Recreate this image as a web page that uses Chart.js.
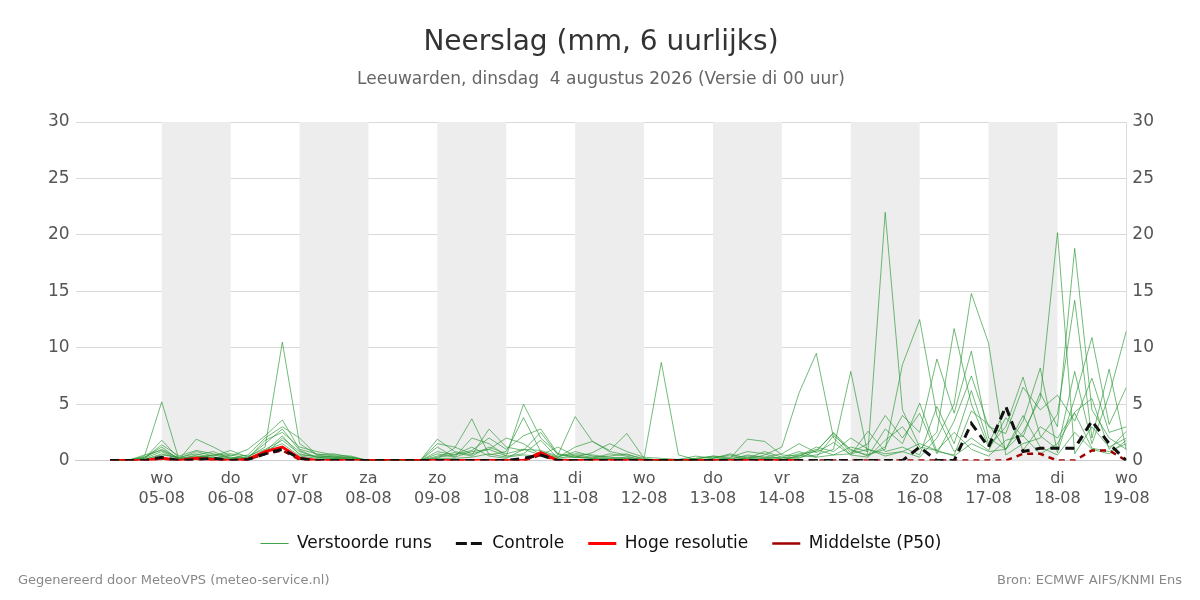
<!DOCTYPE html>
<html>
<head>
<meta charset="utf-8">
<script src="https://cdn.jsdelivr.net/npm/chart.js@4"></script>
<style>
  body { margin: 0; background: #fff; font-family: "DejaVu Sans", sans-serif; }
  #wrap { position: relative; width: 1200px; height: 600px; }
  .foot { position: absolute; top: 572px; font-size: 13px; color: #888; }
</style>
</head>
<body>
<div id="wrap">
  <canvas id="chart" width="1200" height="600"></canvas>
  <div class="foot" style="left:18px">Gegenereerd door MeteoVPS (meteo-service.nl)</div>
  <div class="foot" style="right:18px">Bron: ECMWF AIFS/KNMI Ens</div>
</div>
<script>
// x = 6-hour steps since 04-08 06:00
const dayNames = ["wo","do","vr","za","zo","ma","di","wo","do","vr","za","zo","ma","di","wo"];
const dayDates = ["05-08","06-08","07-08","08-08","09-08","10-08","11-08","12-08","13-08","14-08","15-08","16-08","17-08","18-08","19-08"];
const shadedDays = [0, 2, 4, 6, 8, 10, 12];

const members = [
  [0,0,0.3,1.0,0.2,0.4,0.3,0.2,0.1,0.5, 2.0,0.8,0.3,0.2,0.1,0,0,0,0,0.3, 0.5,1.2,0.4,0.2,1.0,0.5,0.3,0.8,0.4,0.2, 0.3,0.1,0,0,0.1,0,0,0.3,0.2,0.1, 0.4,1.0,0.5,1.2,0.8,22.0,4.5,1.2,0.9,2.5, 1.0,0.4,1.8,2.2,0.6,1.5,4.2,1.1,0.8,1.5],
  [0,0,0.2,0.8,0.1,0.3,0.5,0.2,0.3,1.2, 10.5,1.5,0.5,0.3,0.2,0,0,0,0,0.6, 0.3,0.8,1.0,0.4,5.0,2.0,0.6,0.3,0.2,0.1, 0.2,0,0,0,0,0,0.1,0.2,0,0, 0.5,0.3,2.2,1.0,0.4,2.8,1.5,5.1,0.8,0.5, 4.4,3.2,1.0,2.5,5.5,20.2,0.6,3.0,1.2,2.0],
  [0,0,0.4,5.2,0.1,1.9,1.2,0.4,1.0,2.2, 3.6,1.0,0.6,0.4,0.3,0,0,0.1,0,1.9, 0.8,0.5,2.8,1.2,0.9,2.5,0.5,3.9,1.7,0.8, 0.5,0.2,0,0,0.2,0.3,0.1,0.5,0.3,0.2, 0.6,0.8,2.5,0.9,0.5,1.0,8.5,12.5,4.0,0.8, 2.0,0.9,3.8,2.1,6.0,3.0,18.8,4.5,2.0,1.0],
  [0,0,0.1,0.5,0.3,0.6,0.2,0.5,0.2,0.8, 2.2,0.5,0.4,0.3,0.1,0,0,0,0,0.2, 1.1,3.7,0.5,0.8,3.8,0.8,0.3,1.2,1.7,0.9, 2.4,0.2,8.7,0.5,0.1,0.4,0.2,1.9,1.7,0.5, 0.4,1.2,0.8,2.0,1.0,0.6,0.8,0.3,2.0,5.0, 14.8,10.4,0.5,1.5,2.0,4.1,14.2,2.0,8.1,0.9],
  [0,0,0.2,1.8,0.2,0.8,0.4,0.9,0.3,1.5, 2.8,0.9,0.3,0.4,0.2,0,0,0,0,1.2, 0.3,2.0,1.5,0.4,0.6,1.8,0.2,0.5,0.3,0.4, 0.6,0.1,0.1,0,0,0.2,0.5,0.1,0.5,1.2, 6.0,9.5,2.0,0.5,0.3,1.8,3.0,1.0,2.5,11.7, 5.0,1.2,3.0,7.4,2.2,1.0,7.9,1.5,5.8,11.5],
  [0,0,0.3,1.2,0.1,0.5,0.8,0.2,0.5,2.0, 3.0,2.0,0.5,0.6,0.3,0,0,0,0,0.8, 0.5,0.9,2.0,1.0,2.2,2.8,0.6,0.3,0.7,1.5, 0.8,0.3,0.2,0.1,0.2,0.4,0.3,0.8,0.6,0.1, 0.3,0.5,1.0,7.9,0.5,1.2,4.0,2.5,9.0,4.2, 9.7,2.0,1.0,3.5,8.2,0.7,5.5,10.9,3.2,6.5],
  [0,0,0.2,1.4,0.4,0.9,0.6,0.3,0.2,1.8, 2.5,1.2,0.8,0.5,0.4,0,0,0,0,1.5, 1.2,0.6,1.0,2.0,1.5,0.5,1.2,0.4,0.2,0.6, 0.4,0,0,0.1,0.4,0.2,0.6,0.2,0.8,0.3, 0.2,0.9,2.4,0.7,1.5,4.0,2.0,4.2,0.6,3.5, 7.5,3.0,2.4,6.5,4.5,5.8,3.5,7.3,2.5,3.0],
  [0,0,0.5,0.9,0.2,0.3,0.5,0.6,0.4,1.0, 1.8,0.6,0.3,0.2,0.3,0,0,0,0,0.4, 0.7,0.4,1.2,0.6,1.0,0.9,0.4,0.6,0.5,0.3, 0.2,0.1,0,0,0,0.1,0.2,0.4,0.3,0.6, 1.5,0.7,1.6,0.5,2.6,0.8,1.2,0.5,4.8,1.5, 6.2,1.5,4.6,0.9,3.0,2.0,4.3,5.5,1.0,2.6],
  [0,0,0.1,0.6,0.2,0.2,0.3,0.1,0.2,0.9, 1.5,0.4,0.2,0.2,0.1,0,0,0,0,0.2, 0.2,0.3,0.6,0.3,0.5,0.4,0.2,0.3,0.2,0.2, 0.1,0,0,0,0,0,0.1,0.1,0.2,0.3, 0.8,0.3,0.5,0.6,1.0,0.4,0.8,1.5,0.9,0.4, 1.5,0.8,1.0,4.0,1.2,0.5,2.5,1.0,0.6,1.8]
];
const controle = [0,0,0,0.3,0,0.1,0.2,0,0.1,0.6, 1.0,0.2,0,0,0,0,0,0,0,0, 0,0,0,0,0.2,0.5,0,0,0,0, 0,0,0,0,0,0,0,0,0,0, 0,0,0,0,0,0,0,1.2,0,0, 3.3,1.2,4.8,0.8,1.1,1.1,1.1,3.5,1.5,0];
const hogeRes = [0,0,0,0.2,0,0.2,0.1,0,0.1,0.8, 1.2,0.2,0,0,0,0,0,0,0,0, 0,0,0,0,0,0.7,0,0,0,0, 0,0,0,0,0,0,0,0,0,0, 0];
const p50 = [0,0,0,0.2,0,0.1,0.1,0,0.1,0.6, 0.9,0.1,0,0,0,0,0,0,0,0, 0,0,0,0,0,0.5,0,0,0,0, 0,0,0,0,0,0,0,0,0,0, 0,0,0,0,0,0,0,0,0,0, 0,0,0,0.6,0.6,0,0,0.9,0.9,0];

const pts = arr => arr.map((v, i) => ({ x: i, y: v }));

const datasets = members.map((m, i) => ({
  label: i === 0 ? "Verstoorde runs" : "",
  data: pts(m),
  borderColor: "rgba(40,150,50,0.65)",
  backgroundColor: "rgba(40,150,50,0.65)",
  borderWidth: 1,
  pointRadius: 0,
  order: 4
}));
datasets.push({ label: "Controle", data: pts(controle), borderColor: "#111", backgroundColor: "#111", borderWidth: 3, borderDash: [9, 6], pointRadius: 0, order: 1 });
datasets.push({ label: "Hoge resolutie", data: pts(hogeRes), borderColor: "#ff0000", backgroundColor: "#ff0000", borderWidth: 3, pointRadius: 0, order: 2 });
datasets.push({ label: "Middelste (P50)", data: pts(p50), borderColor: "#a00000", backgroundColor: "#a00000", borderWidth: 2.5, borderDash: [6, 5], pointRadius: 0, order: 3 });

const shade = {
  id: "shade",
  beforeDatasetsDraw(chart) {
    const { ctx, chartArea: a, scales: { x } } = chart;
    ctx.save();
    ctx.fillStyle = "#ededed";
    shadedDays.forEach(d => {
      const x0 = x.getPixelForValue(3 + d * 4), x1 = x.getPixelForValue(7 + d * 4);
      ctx.fillRect(x0, a.top, x1 - x0, a.bottom - a.top);
    });
    ctx.restore();
  }
};

const tickFont = { family: "DejaVu Sans", size: 16 };
new Chart(document.getElementById("chart"), {
  type: "line",
  data: { datasets },
  plugins: [shade],
  options: {
    responsive: false,
    animation: false,
    layout: { padding: { left: 42, right: 40, bottom: 38 } },
    scales: {
      x: {
        type: "linear", min: -2, max: 59,
        afterBuildTicks: s => { s.ticks = dayDates.map((d, i) => ({ value: 3 + i * 4 })); },
        ticks: { color: "#555", font: tickFont, maxRotation: 0, autoSkip: false,
          callback: (v) => { const i = (v - 3) / 4; return [dayNames[i], dayDates[i]]; } },
        grid: { display: false, drawTicks: true, tickLength: 6, tickColor: "#666" },
        border: { color: "#ccc" }
      },
      y: {
        min: 0, max: 30, position: "left",
        ticks: { stepSize: 5, color: "#555", font: { family: "DejaVu Sans", size: 17 }, padding: 6 },
        grid: { color: "#d9d9d9", drawTicks: false },
        border: { display: false }
      },
      y2: {
        min: 0, max: 30, position: "right",
        ticks: { stepSize: 5, color: "#555", font: { family: "DejaVu Sans", size: 17 }, padding: 6 },
        grid: { display: false, drawTicks: false },
        border: { color: "#ddd" }
      }
    },
    plugins: {
      title: { display: true, text: "Neerslag (mm, 6 uurlijks)", color: "#333", font: { family: "DejaVu Sans", size: 28, weight: "normal" }, padding: { top: 26, bottom: 10 } },
      subtitle: { display: true, text: "Leeuwarden, dinsdag  4 augustus 2026 (Versie di 00 uur)", color: "#666", font: { family: "DejaVu Sans", size: 17 }, padding: { bottom: 32 } },
      legend: {
        position: "bottom",
        labels: { color: "#111", font: { family: "DejaVu Sans", size: 17 }, boxWidth: 28, boxHeight: 0, padding: 24,
          filter: it => it.text !== "", sort: (a, b) => a.datasetIndex - b.datasetIndex },
        onClick: null
      },
      tooltip: { enabled: false }
    }
  }
});
</script>
</body>
</html>
